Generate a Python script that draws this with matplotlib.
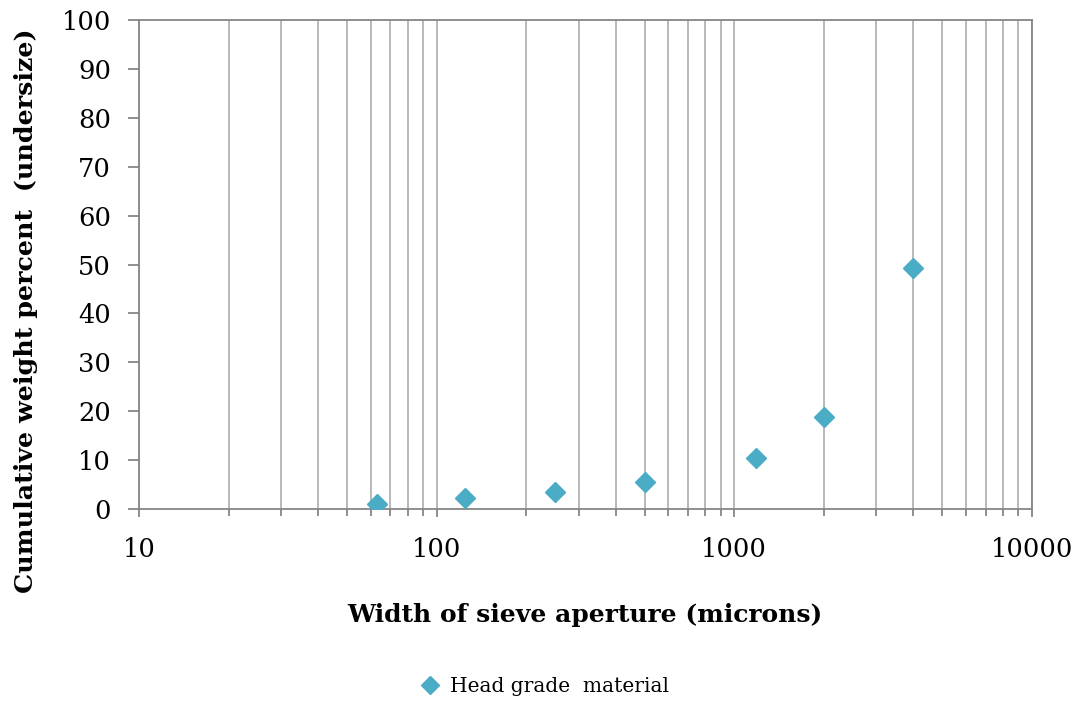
import matplotlib.pyplot as plt
from matplotlib.ticker import LogLocator, NullFormatter

# sieve aperture (microns) vs cumulative weight percent undersize
aperture = [63, 125, 250, 500, 1180, 2000, 4000]
cum_weight = [1.0, 2.3, 3.4, 5.6, 10.5, 18.8, 49.3]
series_name = 'Head grade  material'

plt.rcParams['font.family'] = ['DejaVu Serif']

fig = plt.figure(figsize=(10.86, 7.01), dpi=100)
ax = fig.add_axes([0.128, 0.274, 0.822, 0.697])

ax.plot(aperture, cum_weight, linestyle='none', marker='D', ms=10,
        color='#4BACC6', label=series_name, zorder=3)

ax.set_xscale('log')
ax.set_xlim(10, 10000)
ax.set_ylim(0, 100)
ax.set_yticks(range(0, 101, 10))
ax.xaxis.set_minor_locator(LogLocator(base=10, subs=range(2, 10)))
ax.xaxis.set_minor_formatter(NullFormatter())
ax.set_xticks([10, 100, 1000, 10000])
ax.set_xticklabels(['10', '100', '1000', '10000'])

ax.grid(True, which='both', axis='x', color='#b3b3b3', lw=1.3)
ax.set_axisbelow(True)

for s in ax.spines.values():
    s.set_color('#868686')
    s.set_linewidth(1.3)

ax.tick_params(axis='both', which='both', direction='out', color='#868686',
               width=1.3, labelsize=18.5, labelcolor='black')
ax.tick_params(axis='x', which='major', length=6, pad=14)
ax.tick_params(axis='x', which='minor', length=5)
ax.tick_params(axis='y', length=8, pad=12)

ax.set_xlabel('Width of sieve aperture (microns)', fontsize=18,
              fontweight='bold', labelpad=30)
fig.text(0.024, 0.557, 'Cumulative weight percent  (undersize)', fontsize=18.3,
         fontweight='bold', rotation=90, ha='center', va='center')

fig.legend(loc='center', bbox_to_anchor=(0.497, 0.021), frameon=False,
           fontsize=14.5, handletextpad=0.0, markerscale=0.9)

fig.savefig('out.png', dpi=100)
